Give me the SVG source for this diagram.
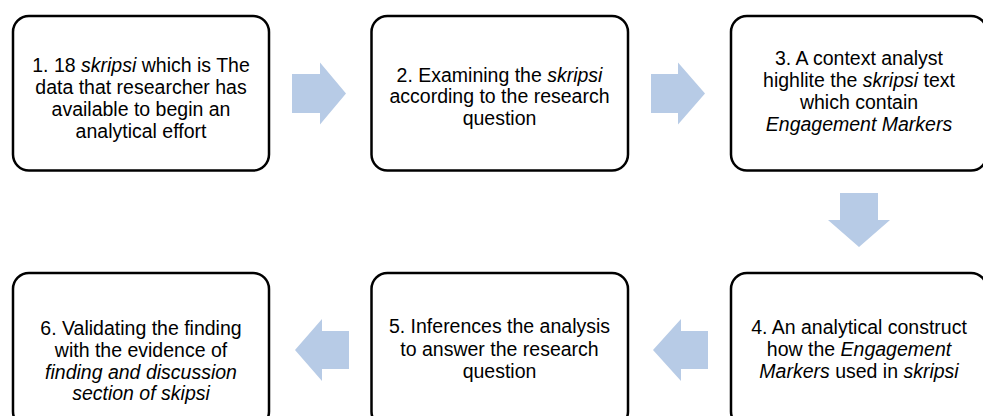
<svg xmlns="http://www.w3.org/2000/svg" width="983" height="416" viewBox="0 0 983 416">
<style>
.box{fill:#fff;stroke:#000;stroke-width:2.5}
.arr{fill:#B7CBE6;stroke:none}
text{font-family:"Liberation Sans",Arial,sans-serif;font-size:19.5px;fill:#000;text-anchor:middle}
.i{font-style:italic}
</style>
<rect width="983" height="416" fill="#fff"/>
<g id="connectors">
<polygon class="arr" points="292,74 320,74 320,62.5 346,93.5 320,124.5 320,113 292,113"/>
<polygon class="arr" points="651,74 678,74 678,62.5 705,93.5 678,124.5 678,113 651,113"/>
<polygon class="arr" points="840,193 878,193 878,220 890,220 859,247 828,220 840,220"/>
<polygon class="arr" points="708,331 681,331 681,319 653,350 681,381 681,369 708,369"/>
<polygon class="arr" points="349,331 322,331 322,319 295,350 322,381 322,369 349,369"/>
</g>
<g id="node1">
<rect class="box" x="13" y="16" width="256" height="154.5" rx="16"/>
<text x="141" y="72">1. 18 <tspan class="i">skripsi</tspan> which is The</text>
<text x="141" y="94">data that researcher has</text>
<text x="141" y="116">available to begin an</text>
<text x="141" y="137.5">analytical effort</text>
</g>
<g id="node2">
<rect class="box" x="371.5" y="16" width="256.5" height="154.5" rx="16"/>
<text x="499.5" y="81.5">2. Examining the <tspan class="i">skripsi</tspan></text>
<text x="499.5" y="103">according to the research</text>
<text x="499.5" y="124.5">question</text>
</g>
<g id="node3">
<rect class="box" x="731" y="16" width="256" height="154.5" rx="16"/>
<text x="859" y="65">3. A context analyst</text>
<text x="859" y="87">highlite the <tspan class="i">skripsi</tspan> text</text>
<text x="859" y="109">which contain</text>
<text x="859" y="131" class="i">Engagement Markers</text>
</g>
<g id="node4">
<rect class="box" x="731" y="273" width="256" height="154.5" rx="16"/>
<text x="859" y="334">4. An analytical construct</text>
<text x="859" y="356">how the <tspan class="i">Engagement</tspan></text>
<text x="859" y="377.5"><tspan class="i">Markers</tspan> used in <tspan class="i">skripsi</tspan></text>
</g>
<g id="node5">
<rect class="box" x="371.5" y="273" width="256.5" height="154.5" rx="16"/>
<text x="499.5" y="333">5. Inferences the analysis</text>
<text x="499.5" y="355.5">to answer the research</text>
<text x="499.5" y="377.5">question</text>
</g>
<g id="node6">
<rect class="box" x="13" y="273" width="256" height="154.5" rx="16"/>
<text x="141" y="335">6. Validating the finding</text>
<text x="141" y="357">with the evidence of</text>
<text x="141" y="378.5" class="i">finding and discussion</text>
<text x="141" y="400" class="i">section of skipsi</text>
</g>
</svg>
